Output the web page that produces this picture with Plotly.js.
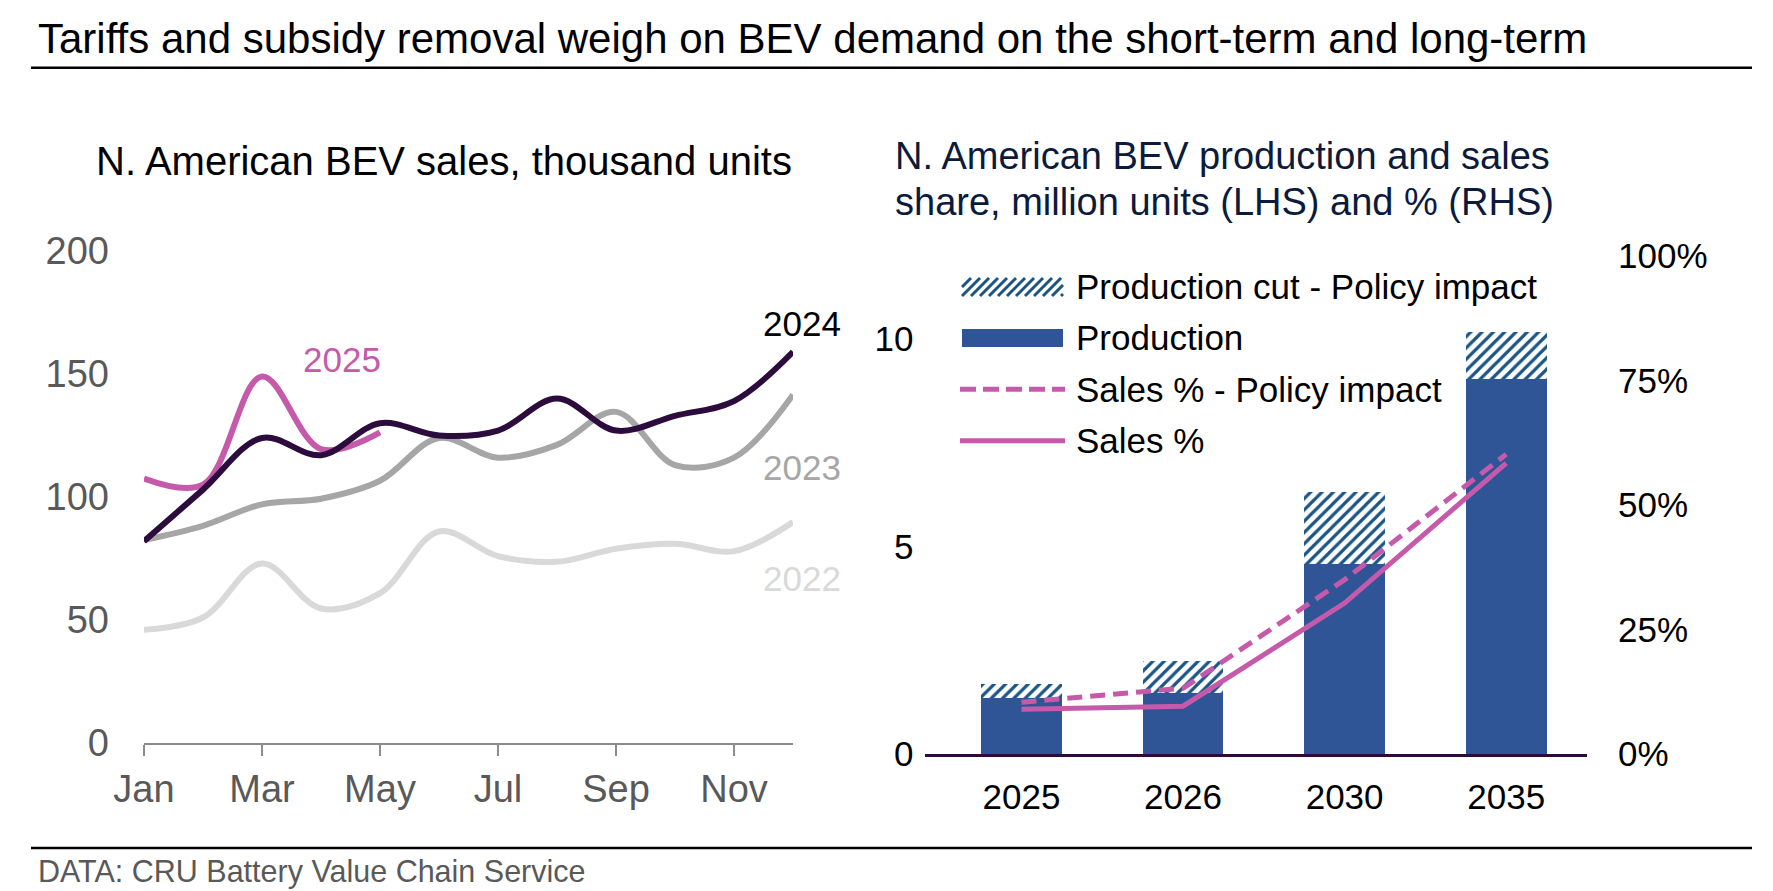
<!DOCTYPE html>
<html>
<head>
<meta charset="utf-8">
<script src="https://cdn.plot.ly/plotly-3.0.1.min.js"></script>
<style>
html,body{margin:0;padding:0;background:#fff;}
#chart{width:1773px;height:891px;}
</style>
</head>
<body>
<div id="chart"></div>
<script>
// ---- Data ----
const months = ['Jan','Feb','Mar','Apr','May','Jun','Jul','Aug','Sep','Oct','Nov','Dec'];
const monthTicks = ['Jan','Mar','May','Jul','Sep','Nov'];
const sales2022 = [46, 51, 73, 54.7, 60.9, 86, 76, 73.7, 79, 81, 78, 89.8];
const sales2023 = [82.5, 88.3, 97, 99.3, 106.6, 124, 116, 121.2, 134.6, 113, 116, 141.6];
const sales2024 = [82, 103, 124, 117, 130, 125, 127, 140, 127, 133, 139, 159];
const sales2025 = [107.5, 105, 149, 119.5, 126.3];

const years = ['2025','2026','2030','2035'];
const production = [1.34, 1.46, 4.58, 9.04];
const productionCut = [0.35, 0.79, 1.74, 1.12];
const salesPct = [9.0, 9.6, 30.3, 58.4];
const salesPctPolicy = [10.4, 13.2, 35.0, 60.2];

const leftTicks = [0, 50, 100, 150, 200];
const lhsTicks = [0, 5, 10];
const rhsTicks = [0, 25, 50, 75, 100];
const rhsTickText = ['0%', '25%', '50%', '75%', '100%'];

// ---- Styles ----
const W = 1773, H = 891;
const px = v => v / W;
const py = v => 1 - v / H;
const FONT = 'Liberation Sans, Arial, sans-serif';
const PINK = '#c65aaa';
const DARK = '#2c0b3d';
const BLUE = '#2f5597';
const HATCH = '#1b5585';

const traces = [
  {x: months, y: sales2022, type: 'scatter', mode: 'lines', xaxis: 'x', yaxis: 'y',
   line: {color: '#d9d9d9', width: 6, shape: 'spline', smoothing: 1}, name: '2022', hoverinfo: 'skip'},
  {x: months, y: sales2023, type: 'scatter', mode: 'lines', xaxis: 'x', yaxis: 'y',
   line: {color: '#a6a6a6', width: 6, shape: 'spline', smoothing: 1}, name: '2023', hoverinfo: 'skip'},
  {x: months.slice(0, sales2025.length), y: sales2025, type: 'scatter', mode: 'lines', xaxis: 'x', yaxis: 'y',
   line: {color: PINK, width: 6, shape: 'spline', smoothing: 1}, name: '2025', hoverinfo: 'skip'},
  {x: months, y: sales2024, type: 'scatter', mode: 'lines', xaxis: 'x', yaxis: 'y',
   line: {color: DARK, width: 6, shape: 'spline', smoothing: 1}, name: '2024', hoverinfo: 'skip'},

  {x: years, y: production, type: 'bar', xaxis: 'x2', yaxis: 'y2', name: 'Production',
   marker: {color: BLUE, line: {width: 0}}, hoverinfo: 'skip'},
  {x: years, y: productionCut, type: 'bar', xaxis: 'x2', yaxis: 'y2', name: 'Production cut - Policy impact',
   marker: {color: 'white', line: {width: 0},
            pattern: {shape: '/', fgcolor: HATCH, bgcolor: 'white', size: 8, solidity: 0.4}}, hoverinfo: 'skip'},
  {x: years, y: salesPctPolicy, type: 'scatter', mode: 'lines', xaxis: 'x2', yaxis: 'y3',
   name: 'Sales % - Policy impact', line: {color: PINK, width: 5, dash: '15px,8px'}, hoverinfo: 'skip'},
  {x: years, y: salesPct, type: 'scatter', mode: 'lines', xaxis: 'x2', yaxis: 'y3',
   name: 'Sales %', line: {color: PINK, width: 5}, hoverinfo: 'skip'}
];

const ann = (text, x, y, size, color, xanchor) => ({
  text: text, xref: 'paper', yref: 'paper', x: px(x), y: py(y),
  xanchor: xanchor || 'left', yanchor: 'middle', showarrow: false,
  font: {family: FONT, size: size, color: color}
});

const annotations = [
  ann('Tariffs and subsidy removal weigh on BEV demand on the short-term and long-term', 36, 38, 42, '#000'),
  ann('N. American BEV sales, thousand units', 94, 161, 40, '#000'),
  ann('N. American BEV production and sales', 893, 155.5, 38, '#0c1a3c'),
  ann('share, million units (LHS) and % (RHS)', 893, 201.5, 38, '#0c1a3c'),
  ann('DATA: CRU Battery Value Chain Service', 36, 871, 30.5, '#595959'),
  ann('2025', 342, 360, 35, PINK, 'center'),
  ann('2024', 802, 323, 35, '#000', 'center'),
  ann('2023', 802, 467.5, 35, '#a6a6a6', 'center'),
  ann('2022', 802, 578.7, 35, '#d9d9d9', 'center'),
  ann('Production cut - Policy impact', 1074, 286.5, 35, '#000'),
  ann('Production', 1074, 337.9, 35, '#000'),
  ann('Sales % - Policy impact', 1074, 389.3, 35, '#000'),
  ann('Sales %', 1074, 440.7, 35, '#000')
];

const shapes = [
  {type: 'line', xref: 'paper', yref: 'paper', x0: px(31), x1: px(1752), y0: py(67.7), y1: py(67.7),
   line: {color: '#000', width: 2.5}},
  {type: 'line', xref: 'paper', yref: 'paper', x0: px(31), x1: px(1752), y0: py(848), y1: py(848),
   line: {color: '#000', width: 2.5}},
  // legend: production swatch
  {type: 'rect', xref: 'paper', yref: 'paper', x0: px(962), x1: px(1063), y0: py(347), y1: py(329),
   fillcolor: BLUE, line: {width: 0}},
  // legend: dashed / solid lines
  {type: 'line', xref: 'paper', yref: 'paper', x0: px(960), x1: px(1065), y0: py(389.3), y1: py(389.3),
   line: {color: PINK, width: 5, dash: '16px,7px'}},
  {type: 'line', xref: 'paper', yref: 'paper', x0: px(960), x1: px(1065), y0: py(440.7), y1: py(440.7),
   line: {color: PINK, width: 5}}
];
// legend: hatched swatch built from diagonal strokes clipped to the box
(function () {
  const x0 = 962, x1 = 1063, top = 278, bot = 296, h = bot - top, step = 9;
  for (let s = x0 - h; s < x1; s += step) {
    let t0 = Math.max(0, (x0 - s) / h), t1 = Math.min(1, (x1 - s) / h);
    if (t1 <= t0) continue;
    shapes.push({type: 'line', xref: 'paper', yref: 'paper',
      x0: px(s + t0 * h), y0: py(bot - t0 * h), x1: px(s + t1 * h), y1: py(bot - t1 * h),
      line: {color: HATCH, width: 3}});
  }
})();

const layout = {
  width: W, height: H,
  margin: {l: 0, r: 0, t: 0, b: 0},
  paper_bgcolor: '#fff', plot_bgcolor: 'rgba(0,0,0,0)',
  font: {family: FONT},
  showlegend: false,
  barmode: 'stack', bargap: 0.5,
  xaxis: {domain: [px(144), px(793)], anchor: 'y', type: 'category', categoryarray: months,
          range: [0, 11], tickmode: 'array', tickvals: monthTicks, ticktext: monthTicks,
          showline: true, linecolor: '#8c8c8c', linewidth: 2, ticks: 'outside', ticklen: 11,
          tickwidth: 2, tickcolor: '#8c8c8c', showgrid: false, zeroline: false,
          tickfont: {family: FONT, size: 38, color: '#595959'}, ticklabelstandoff: 0, fixedrange: true},
  yaxis: {domain: [py(743), py(251)], anchor: 'x', range: [0, 200], tickmode: 'array', tickvals: leftTicks,
          showline: false, showgrid: false, zeroline: false, ticks: '',
          tickfont: {family: FONT, size: 38, color: '#595959'}, ticklabelstandoff: 34, fixedrange: true},
  xaxis2: {domain: [px(924.5), px(1587)], anchor: 'y2', type: 'category', categoryarray: years,
           range: [-0.6, 3.5], showline: true, linecolor: '#2a0c3c', linewidth: 3, ticks: '',
           showgrid: false, zeroline: false, tickfont: {family: FONT, size: 35, color: '#000'},
           ticklabelstandoff: 10, fixedrange: true},
  yaxis2: {domain: [py(754), py(256)], anchor: 'x2', range: [0, 12], tickmode: 'array', tickvals: lhsTicks,
           showline: false, showgrid: false, zeroline: false, ticks: '',
           tickfont: {family: FONT, size: 35, color: '#000'}, ticklabelstandoff: 10, fixedrange: true},
  yaxis3: {overlaying: 'y2', anchor: 'x2', side: 'right', range: [0, 100], tickmode: 'array',
           tickvals: rhsTicks, ticktext: rhsTickText, showline: false, showgrid: false, zeroline: false, ticks: '',
           tickfont: {family: FONT, size: 35, color: '#000'}, ticklabelstandoff: 30, fixedrange: true},
  annotations: annotations,
  shapes: shapes
};

Plotly.newPlot('chart', traces, layout, {displayModeBar: false, staticPlot: true});
</script>
</body>
</html>
